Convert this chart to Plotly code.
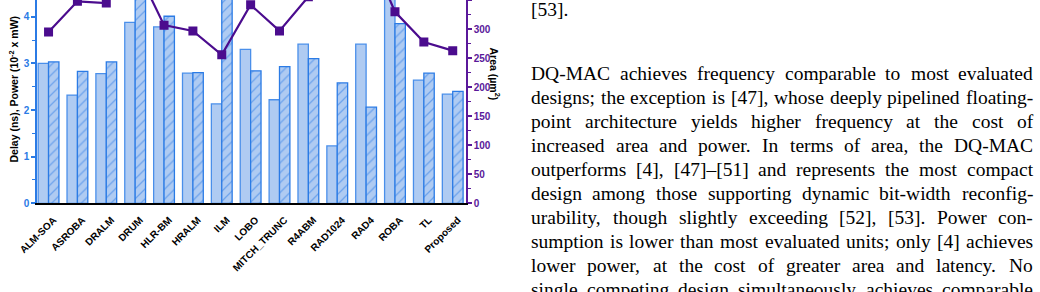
import plotly.graph_objects as go

# ---------------- data ----------------
categories = ["ALM-SOA", "ASROBA", "DRALM", "DRUM", "HLR-BM", "HRALM", "ILM", "LOBO",
              "MITCH_TRUNC", "R4ABM", "RAD1024", "RAD4", "ROBA", "TL", "Proposed"]
delay_ns = [3.00, 2.32, 2.78, 3.88, 3.78, 2.79, 2.13, 3.30, 2.22, 3.41, 1.23, 3.41, 4.55, 2.64, 2.34]
power_1e2_mW = [3.03, 2.83, 3.03, 4.60, 4.01, 2.80, 4.90, 2.84, 2.93, 3.10, 2.58, 2.06, 3.85, 2.79, 2.40]
area_um2 = [295, 348, 345, 410, 307, 297, 256, 342, 297, 356, 385, 445, 330, 278, 263]
left_tick_vals = [0, 1, 2, 3, 4]
right_tick_vals = [0, 50, 100, 150, 200, 250, 300, 350]

para_top = ["[53]."]
para_main = [
    "DQ-MAC achieves frequency comparable to most evaluated",
    "designs; the exception is [47], whose deeply pipelined floating-",
    "point architecture yields higher frequency at the cost of",
    "increased area and power. In terms of area, the DQ-MAC",
    "outperforms [4], [47]\u2013[51] and represents the most compact",
    "design among those supporting dynamic bit-width reconfig-",
    "urability, though slightly exceeding [52], [53]. Power con-",
    "sumption is lower than most evaluated units; only [4] achieves",
    "lower power, at the cost of greater area and latency. No",
    "single competing design simultaneously achieves comparable",
]

# ---------------- styling ----------------
FW, FH = 1040, 292
X0, X1 = 37, 466          # plot area pixels
Y_ZERO = 203.3            # pixel of value 0
BLUE = "#2B7BE5"
FILL = "#AFCBF2"
PURPLE_LINE = "#4B0C8E"
PURPLE_AX = "#5A189A"
SANS = "Liberation Sans, Arial, sans-serif"
SERIF = "Liberation Serif, Times New Roman, serif"

x = list(range(len(categories)))

fig = go.Figure()
fig.add_trace(go.Bar(
    x=x, y=delay_ns, name="Delay",
    marker=dict(color=FILL, line=dict(color="#4A8FEA", width=1.3)),
))
fig.add_trace(go.Bar(
    x=x, y=power_1e2_mW, name="Power",
    marker=dict(color=FILL, line=dict(color=BLUE, width=1.3),
                pattern=dict(shape="/", fgcolor=BLUE, bgcolor=FILL, size=7, solidity=0.18)),
))
fig.add_trace(go.Scatter(
    x=x, y=area_um2, name="Area", yaxis="y2", mode="lines+markers",
    line=dict(color=PURPLE_LINE, width=2.2),
    marker=dict(symbol="square", size=9, color=PURPLE_LINE),
))

fig.update_layout(
    width=FW, height=FH,
    margin=dict(l=0, r=0, t=0, b=0, autoexpand=False),
    paper_bgcolor="white", plot_bgcolor="white",
    showlegend=False,
    barmode="group", bargap=0.28, bargroupgap=0.0,
    xaxis=dict(
        domain=[X0 / FW, X1 / FW], automargin=False,
        range=[-0.4, 14.46],
        tickmode="array", tickvals=x, ticktext=categories,
        tickangle=-45, ticks="", ticklabelstandoff=5, ticklabelshift=5,
        tickfont=dict(family=SANS, size=10, color="black", weight="bold"),
        showline=True, linecolor="black", linewidth=2,
        showgrid=False, zeroline=False,
    ),
    yaxis=dict(
        domain=[1 - Y_ZERO / FH, 1], automargin=False,
        range=[0, Y_ZERO / 46.65],
        tickmode="array", tickvals=left_tick_vals,
        ticks="outside", ticklen=4, tickwidth=1.5, tickcolor=BLUE,
        minor=dict(dtick=0.5, ticks="outside", ticklen=3, tickwidth=1.2, tickcolor=BLUE, showgrid=False),
        tickfont=dict(family=SANS, size=10, color=BLUE, weight="bold"),
        showline=True, linecolor=BLUE, linewidth=1.5,
        showgrid=False, zeroline=False,
    ),
    yaxis2=dict(
        overlaying="y", side="right", anchor="x", automargin=False,
        range=[0, 350.3],
        tickmode="array", tickvals=right_tick_vals,
        ticks="outside", ticklen=4, tickwidth=1.5, tickcolor=PURPLE_AX,
        minor=dict(dtick=25, ticks="outside", ticklen=3, tickwidth=1.2, tickcolor=PURPLE_AX, showgrid=False),
        tickfont=dict(family=SANS, size=10, color=PURPLE_AX, weight="bold"),
        showline=True, linecolor=PURPLE_AX, linewidth=1.5,
        showgrid=False, zeroline=False,
    ),
)

ann = []
# axis titles
ann.append(dict(x=12.5 / FW, y=1 - 89 / FH, xref="paper", yref="paper",
                xanchor="center", yanchor="middle",
                text="Delay (ns), Power (10<sup>-2</sup> x mW)", textangle=-90,
                showarrow=False, font=dict(family=SANS, size=10.5, color="black", weight="bold")))
ann.append(dict(x=495.5 / FW, y=1 - 74 / FH, xref="paper", yref="paper",
                xanchor="center", yanchor="middle",
                text="Area (\u00b5m<sup>2</sup>)", textangle=90,
                showarrow=False, font=dict(family=SANS, size=10.5, color="black", weight="bold")))

# ---------------- justified text (Times metrics) ----------------
W = {' ': 250, ',': 250, '-': 333, '.': 250, ';': 278, ':': 278, '[': 333, ']': 333,
     '(': 333, ')': 333, '\u2013': 500}
for c in "0123456789":
    W[c] = 500
W.update(dict(zip("ABCDEFGHIJKLMNOPQRSTUVWXYZ",
                  [722, 667, 667, 722, 611, 556, 722, 722, 333, 389, 722, 611, 889, 722, 722,
                   556, 722, 667, 556, 611, 722, 722, 944, 722, 722, 611])))
W.update(dict(zip("abcdefghijklmnopqrstuvwxyz",
                  [444, 500, 444, 500, 444, 333, 500, 500, 278, 278, 500, 278, 778, 500, 500,
                   500, 500, 333, 389, 278, 500, 500, 722, 500, 500, 444])))

FS = 19.5
TX0, TX1 = 530, 1032


def tw(s):
    return sum(W.get(ch, 500) for ch in s) * FS / 1000.0


def place_line(line, yc, justify):
    words = line.split(" ")
    if justify and len(words) > 1:
        gap = (TX1 - TX0 - sum(tw(w) for w in words)) / (len(words) - 1)
    else:
        gap = tw(" ")
    xp = TX0
    for w in words:
        ann.append(dict(x=xp / FW, y=1 - yc / FH, xref="paper", yref="paper",
                        text=w, xanchor="left", yanchor="middle", showarrow=False, borderpad=0,
                        font=dict(family=SERIF, size=FS, color="black")))
        xp += tw(w) + gap


place_line(para_top[0], 9.5, False)
for i, ln in enumerate(para_main):
    place_line(ln, 73.5 + 24 * i, True)

fig.update_layout(annotations=ann)
fig.write_html("out.html", config={"displayModeBar": False})
